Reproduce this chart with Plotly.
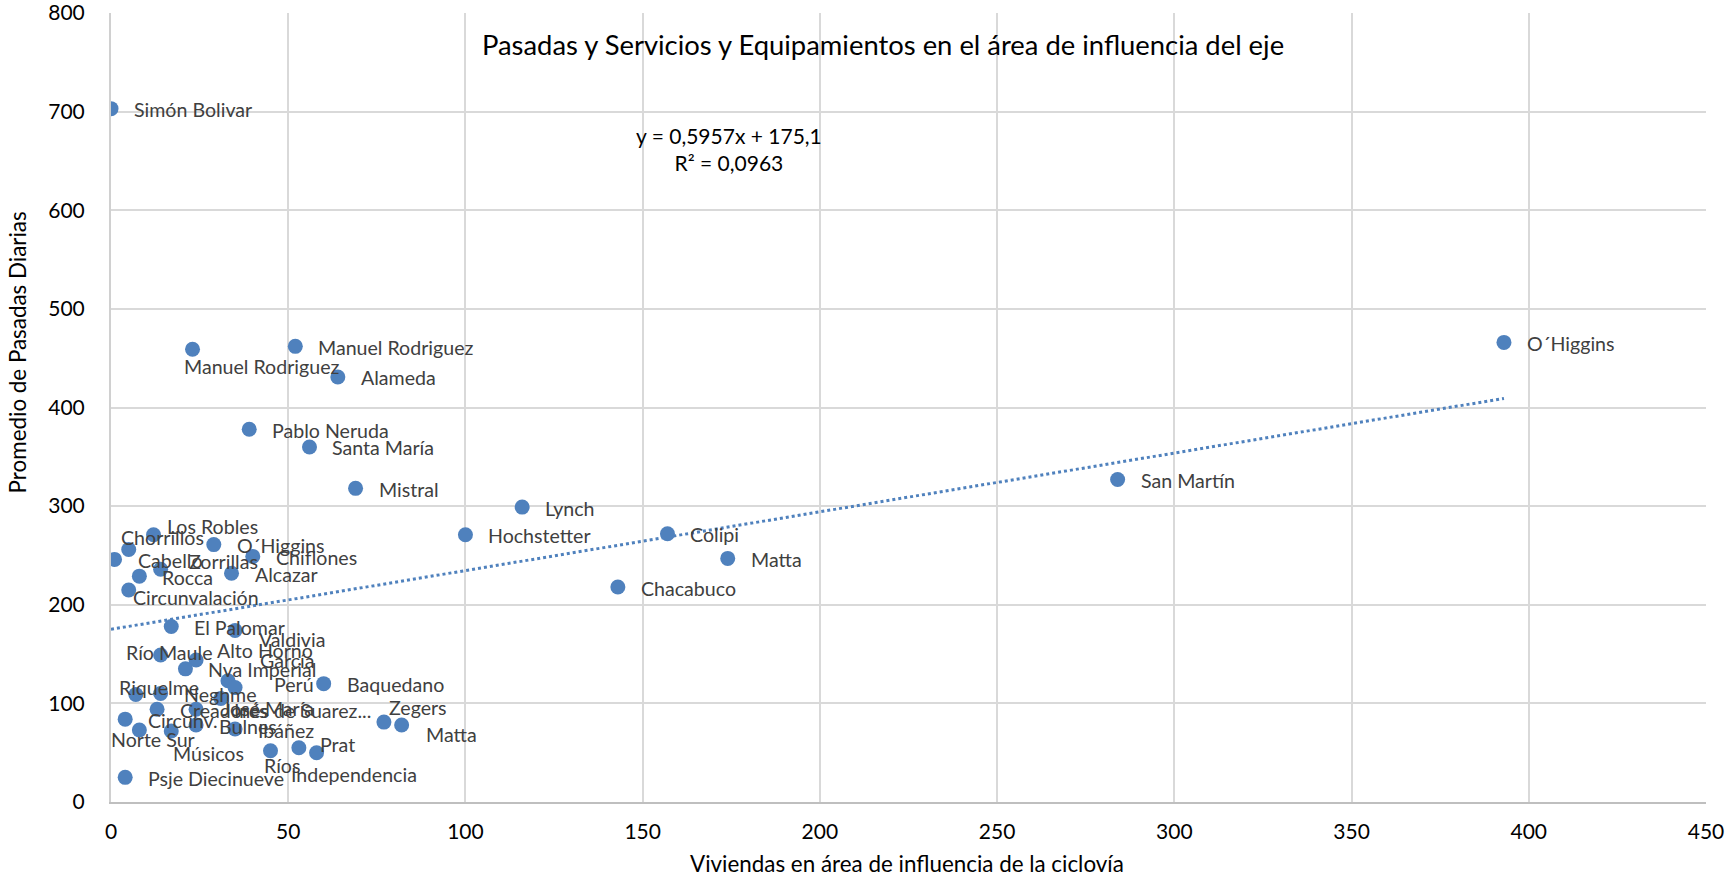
import plotly.graph_objects as go

# ---- data ----
names = ["Simón Bolivar", "Manuel Rodriguez", "Manuel Rodriguez", "Alameda", "Pablo Neruda",
         "Santa María", "Mistral", "Lynch", "Hochstetter", "Colipi", "Matta", "Chacabuco",
         "San Martín", "O´Higgins", "Los Robles", "Chorrillos", "Cabello", "O´Higgins",
         "Chiflones", "Zorrillas", "Rocca", "Alcazar", "Circunvalación", "El Palomar",
         "Valdivia", "Río Maule", "Alto Horno", "Nva Imperial", "García", "Perú", "Baquedano",
         "Riquelme", "Neghme", "Inés de Suarez...", "Creadores", "José María", "Circunv.",
         "Norte Sur", "Músicos", "Bulnes", "Ibáñez", "Ríos", "Independencia", "Prat",
         "Zegers", "Matta", "Psje Diecinueve"]
viviendas = [0, 23, 52, 64, 39, 56, 69, 116, 100, 157, 174, 143,
             284, 393, 12, 5, 1, 29,
             40, 14, 8, 34, 5, 17,
             35, 14, 24, 21, 33, 35, 60,
             7, 14, 31, 13, 24, 4,
             8, 17, 24, 35, 45, 53, 58,
             77, 82, 4]
pasadas = [703, 459, 462, 431, 378, 360, 318, 299, 271, 272, 247, 218,
           327, 466, 271, 256, 246, 261,
           249, 236, 229, 232, 215, 178,
           174, 149, 144, 135, 123, 116, 120,
           109, 110, 105, 94, 94, 84,
           73, 72, 78, 74, 52, 55, 50,
           81, 78, 25]

# trendline (Excel linear fit as displayed)
slope = 0.5957
intercept = 175.1
eq_text = "y = 0,5957x + 175,1<br>R² = 0,0963"

title_text = "Pasadas y Servicios y Equipamientos en el área de influencia del eje"
x_title = "Viviendas en área de influencia de la ciclovía"
y_title = "Promedio de Pasadas Diarias"
x_ticks = [0, 50, 100, 150, 200, 250, 300, 350, 400, 450]
y_ticks = [0, 100, 200, 300, 400, 500, 600, 700, 800]

# label offsets in pixels (dx right, dy down) – default to the right of the marker
DEFAULT_OFF = (23, 1)
label_off = {
    1: (-9, 17), 14: (13, -8), 15: (-8, -12), 19: (28, -8), 22: (4, 8),
    24: (24, 9), 25: (-35, -3), 26: (21, -9), 28: (32, -20), 29: (39, -3),
    31: (-17, -7), 33: (13, 12), 35: (26, -1), 37: (-28, 9), 38: (2, 23),
    41: (-7, 15), 42: (-8, 27), 43: (3, -8), 44: (5, -15), 45: (24, 9),
}

BLUE = "#4F81BD"
FONT = "Lato, Calibri, 'Open Sans', sans-serif"
GRID = "#d9d9d9"
W, H = 1729, 876
ML, MR, MT, MB = 111, 23, 13, 73.5
PW, PH = W - ML - MR, H - MT - MB


def px(xp):
    return (xp - ML) / PW


def py(yp):
    return (H - MB - yp) / PH


fig = go.Figure()

xmin, xmax = min(viviendas), max(viviendas)
fig.add_trace(go.Scatter(
    x=[xmin, xmax], y=[slope * xmin + intercept, slope * xmax + intercept],
    mode="lines", line=dict(color=BLUE, width=3, dash="dot"),
    hoverinfo="skip", showlegend=False))

fig.add_trace(go.Scatter(
    x=viviendas, y=pasadas, mode="markers", text=names,
    marker=dict(color=BLUE, size=15, line=dict(width=0)),
    showlegend=False))

annotations = []
for i, (n, xv, yv) in enumerate(zip(names, viviendas, pasadas)):
    dx, dy = label_off.get(i, DEFAULT_OFF)
    annotations.append(dict(
        x=xv, y=yv, xref="x", yref="y", text=n, showarrow=False,
        xanchor="left", yanchor="middle", xshift=dx - 2, yshift=-dy,
        font=dict(family=FONT, size=19.6, color="#404040")))

# trendline equation
annotations.append(dict(
    x=px(729), y=py(149), xref="paper", yref="paper", text=eq_text,
    showarrow=False, xanchor="center", yanchor="middle", align="center",
    font=dict(family=FONT, size=21, color="#000000")))

# chart title and axis titles
annotations.append(dict(
    x=px(883), y=py(45), xref="paper", yref="paper", text=title_text,
    showarrow=False, xanchor="center", yanchor="middle",
    font=dict(family=FONT, size=27.4, color="#000000")))
annotations.append(dict(
    x=px(907), y=py(864), xref="paper", yref="paper", text=x_title,
    showarrow=False, xanchor="center", yanchor="middle",
    font=dict(family=FONT, size=22.4, color="#000000")))
annotations.append(dict(
    x=px(17.6), y=py(353), xref="paper", yref="paper", text=y_title,
    showarrow=False, xanchor="center", yanchor="middle", textangle=-90,
    font=dict(family=FONT, size=22.4, color="#000000")))

fig.update_layout(
    width=W, height=H,
    margin=dict(l=ML, r=MR, t=MT, b=MB, autoexpand=False),
    paper_bgcolor="white", plot_bgcolor="white",
    annotations=annotations,
    font=dict(family=FONT, color="#000000"),
)

fig.update_xaxes(
    range=[0, 450], tickvals=x_ticks, showgrid=True, gridcolor=GRID, gridwidth=1.5,
    zeroline=False, showline=True, linecolor="#bfbfbf", linewidth=2,
    ticks="", ticklabelstandoff=10, automargin=False, ticklabeloverflow="allow",
    tickfont=dict(family=FONT, size=21, color="#000000"))

fig.update_yaxes(
    range=[0, 800], tickvals=y_ticks, showgrid=True, gridcolor=GRID, gridwidth=1.5,
    zeroline=False, showline=True, linecolor="#d0d0d0", linewidth=2,
    ticks="", ticklabelstandoff=20, automargin=False, ticklabeloverflow="allow",
    tickfont=dict(family=FONT, size=21, color="#000000"))

fig.write_html("out.html", config={"displayModeBar": False},
               post_script="document.body.style.margin='0';")
